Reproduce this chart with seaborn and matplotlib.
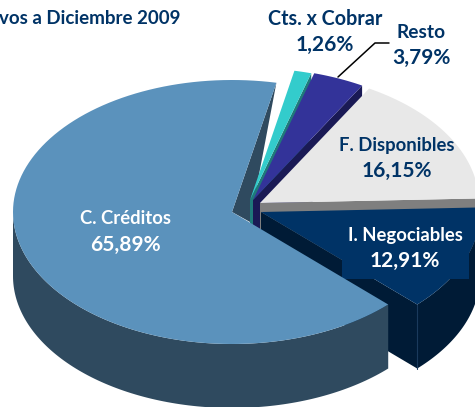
import numpy as np
import matplotlib
matplotlib.use("Agg")
import matplotlib.pyplot as plt
from matplotlib.patches import Rectangle
import seaborn as sns

# values as printed on the chart, counter-clockwise from the start angle
names = ["C. Créditos", "I. Negociables", "F. Disponibles", "Resto", "Cts. x Cobrar"]
shares = [65.89, 12.91, 16.15, 3.79, 1.26]
share_labels = ["65,89%", "12,91%", "16,15%", "3,79%", "1,26%"]

top_colors = ["#5b92bc", "#003366", "#e8e8e8", "#333399", "#33cccc"]
side_colors = ["#2f4a5f", "#001b36", "#7f7f7f", "#1a1a55", "#1f7a7a"]
text_color = "#003366"

START = 78.3
A, B = 219.0, 132.0   # ellipse radii in pixels
DEPTH = 64.0
apex_x = [232, 261, 260, 253, 250]
apex_y = [212, 212, 203, 200, 200]
label_xy = [(125, 232), (405, 248), (397, 158), (421, 45), (325, 32)]
label_fg = ["white", "white", text_color, text_color, text_color]
name_size = [13.3, 13.3, 13.3, 13.8, 14.2]

sns.set_theme(style="white")
plt.rcParams["font.family"] = ["Lato", "DejaVu Sans"]

fig, ax = plt.subplots(figsize=(4.75, 4.07), dpi=100)
fig.subplots_adjust(0, 0, 1, 1)
ax.set_xlim(0, 475)
ax.set_ylim(407, 0)
ax.axis("off")

edges = START + np.cumsum([0] + shares) * 3.6


def rim(i, t0, t1):
    t = np.radians(np.linspace(t0, t1, 120))
    return apex_x[i] + A * np.cos(t), apex_y[i] - B * np.sin(t)


def top(i, z):
    x, y = rim(i, edges[i], edges[i + 1])
    ax.fill(np.r_[apex_x[i], x], np.r_[apex_y[i], y], color=top_colors[i], lw=0, zorder=z)


def wall(i, t, z):
    x, y = rim(i, t, t)
    xs = [apex_x[i], x[0], x[0], apex_x[i]]
    ys = [apex_y[i], y[0], y[0] + DEPTH, apex_y[i] + DEPTH]
    ax.fill(xs, ys, color=side_colors[i], lw=0, zorder=z)


def side(i, t0, t1, z):
    x, y = rim(i, t0, t1)
    ax.fill(np.r_[x, x[::-1]], np.r_[y, y[::-1] + DEPTH], color=side_colors[i], lw=0, zorder=z)


# back to front
bx, by = rim(0, edges[0], edges[0])
ax.fill([bx[0], apex_x[0], apex_x[0] + 18], [by[0], apex_y[0], apex_y[0] + 10],
        color=side_colors[0], lw=0, zorder=1)

wall(4, edges[4], 2)
top(4, 3)
wall(3, edges[3], 4)
top(3, 5)
wall(2, edges[2], 6)
top(2, 7)

side(1, edges[1], edges[2], 8)
wall(1, edges[1], 9)
tip_x, tip_y = rim(1, edges[1], edges[1])
ax.plot([tip_x[0], tip_x[0]], [tip_y[0], tip_y[0] + DEPTH], color="#1a3a5c", lw=0.8, zorder=10)
top(1, 11)
ax.add_patch(Rectangle((342, 235), 127, 44, color=top_colors[1], lw=0, zorder=11))

side(0, 180, edges[1], 12)
top(0, 13)

# leader line for Resto
ax.plot([338, 375, 389], [77, 43, 43], color="black", lw=1.1, zorder=14)

for i, name in enumerate(names):
    x, y = label_xy[i]
    ax.text(x, y - 13, name, ha="center", va="center", color=label_fg[i],
            fontsize=name_size[i], fontweight="bold", zorder=15)
    ax.text(x, y + 13, share_labels[i], ha="center", va="center", color=label_fg[i],
            fontsize=15, fontweight="bold", zorder=15)

ax.text(-1, 18, "vos a Diciembre 2009", ha="left", va="center", color=text_color,
        fontsize=13.5, fontweight="bold", zorder=15)

fig.savefig("out.png", dpi=100)
